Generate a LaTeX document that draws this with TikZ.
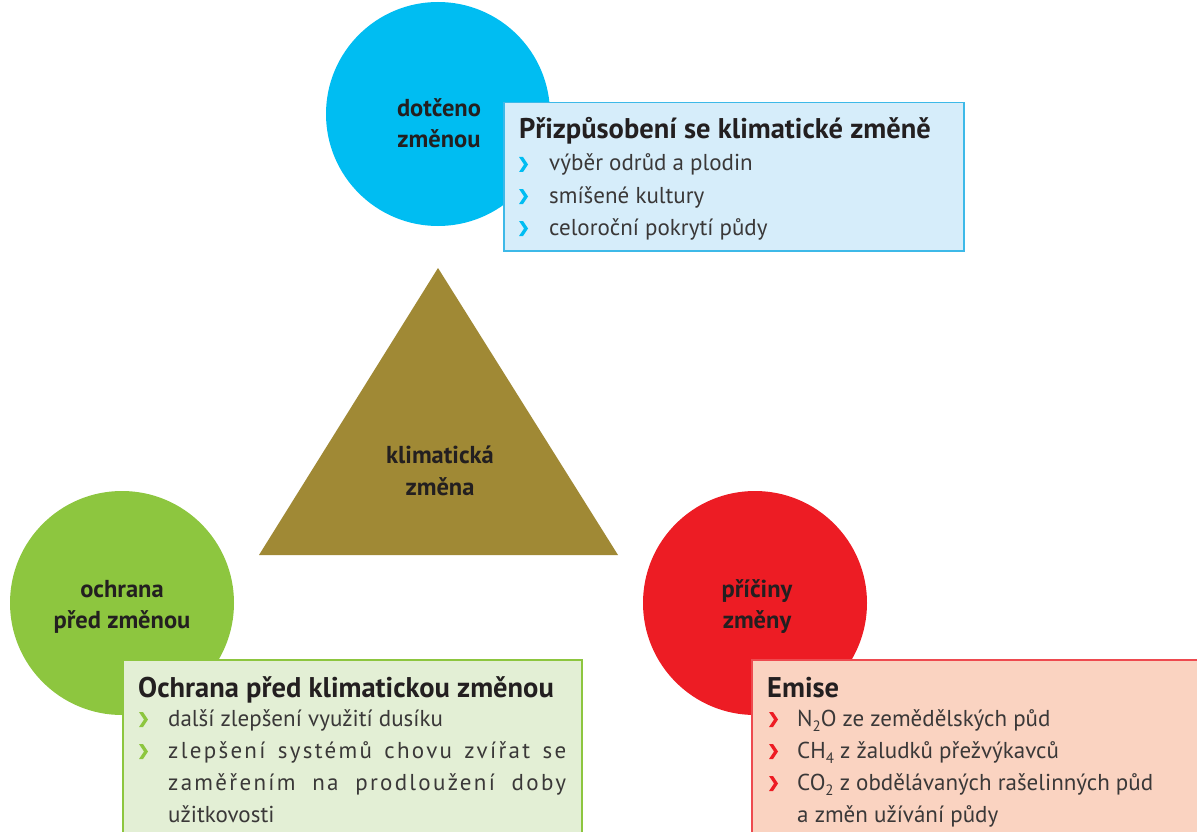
\documentclass[tikz,border=0pt]{standalone}
\usepackage{fontspec}
\setmainfont{PT Sans}
\definecolor{cblue}{HTML}{00BDF2}
\definecolor{cgreen}{HTML}{8DC63F}
\definecolor{cred}{HTML}{ED1C24}
\definecolor{colive}{HTML}{A08935}
\definecolor{bblue}{HTML}{3DB9E8}
\definecolor{fblue}{HTML}{D6EDFA}
\definecolor{bgreen}{HTML}{8DC63F}
\definecolor{fgreen}{HTML}{E3EFD5}
\definecolor{bred}{HTML}{EE4A4F}
\definecolor{fred}{HTML}{FAD3C1}
\definecolor{dark}{HTML}{231F20}
\definecolor{body}{HTML}{3A3838}
\newcommand\mysub[1]{\raisebox{-5pt}{\fontsize{15}{15}\selectfont #1}}
\tikzset{
  disc/.style={circle, inner sep=0pt, minimum size=224pt},
  clabel/.style={font=\bfseries\fontsize{24.5}{28}\selectfont, text=dark, inner sep=0pt, anchor=base},
  boxframe/.style={rectangle, line width=1.5pt, anchor=north west, inner sep=0pt},
  boxtitle/.style={font=\bfseries\fontsize{28.5}{32}\selectfont, text=dark, inner sep=0pt, anchor=base west},
  itemtxt/.style={font=\fontsize{23}{26}\selectfont, text=body, inner sep=0pt, anchor=base west},
  chev/.pic={\fill (0,0) -- (4,0) -- (9,7.5) -- (4,15) -- (0,15) -- (5,7.5) -- cycle;}
}
\begin{document}
\begin{tikzpicture}[x=1pt,y=-1pt]
\clip (0,0) rectangle (1197,832);
\fill[white] (0,0) rectangle (1197,832);

% circles
\node[disc, fill=cblue] (cb) at (438,114) {};
\node[disc, fill=cgreen] (cg) at (122,603) {};
\node[disc, fill=cred] (cr) at (755,603) {};

% triangle
\fill[colive] (438,268) -- (618,555) -- (259,555) -- cycle;
\node[clabel] (t1) at (440,463) {klimatická};
\node[clabel] (t2) at (440,495) {změna};

% circle labels
\node[clabel] (b1) at (439,117) {dotčeno};
\node[clabel] (b2) at (439,148) {změnou};
\node[clabel] (g1) at (122,597) {ochrana};
\node[clabel] (g2) at (122,628) {před změnou};
\node[clabel] (r1) at (757,597) {příčiny};
\node[clabel] (r2) at (757,628) {změny};

% blue box
\node[boxframe, draw=bblue, fill=fblue, minimum width=460pt, minimum height=148pt] (bbox) at (503,102) {};
\node[boxtitle] (bt) at (519,139) {Přizpůsobení se klimatické změně};
\pic[fill=cblue] (bm1) at (519,157) {chev};
\pic[fill=cblue] (bm2) at (519,189) {chev};
\pic[fill=cblue] (bm3) at (519,221) {chev};
\node[itemtxt] (bi1) at (549,171) {výběr odrůd a plodin};
\node[itemtxt] (bi2) at (549,203) {smíšené kultury};
\node[itemtxt] (bi3) at (549,235) {celoroční pokrytí půdy};

% green box
\node[boxframe, draw=bgreen, fill=fgreen, minimum width=459pt, minimum height=200pt] (gbox) at (122,659) {};
\node[boxtitle] (gt) at (138,697) {Ochrana před klimatickou změnou};
\pic[fill=cgreen] (gm1) at (139,712) {chev};
\pic[fill=cgreen] (gm2) at (139,744) {chev};
\node[itemtxt] (gi1) at (168,726) {další zlepšení využití dusíku};
\node[itemtxt] (gi2) at (168,758) {\addfontfeature{LetterSpace=10}\makebox[398pt][s]{zlepšení systémů chovu zvířat se}};
\node[itemtxt] (gi3) at (168,790) {\addfontfeature{LetterSpace=10}\makebox[398pt][s]{zaměřením na prodloužení doby}};
\node[itemtxt] (gi4) at (168,822) {užitkovosti};

% red box
\node[boxframe, draw=bred, fill=fred, minimum width=460pt, minimum height=200pt] (rbox) at (751,659) {};
\node[boxtitle] (rt) at (767,697) {Emise};
\pic[fill=cred] (rm1) at (769,712) {chev};
\pic[fill=cred] (rm2) at (769,744) {chev};
\pic[fill=cred] (rm3) at (769,776) {chev};
\node[itemtxt] (ri1) at (797,726) {N\mysub{2}O ze zemědělských půd};
\node[itemtxt] (ri2) at (797,758) {CH\mysub{4} z žaludků přežvýkavců};
\node[itemtxt] (ri3) at (797,790) {CO\mysub{2} z obdělávaných rašelinných půd};
\node[itemtxt] (ri4) at (797,822) {a změn užívání půdy};
\end{tikzpicture}
\end{document}
